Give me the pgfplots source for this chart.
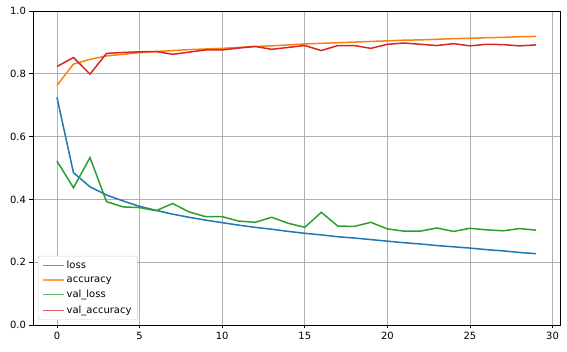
\documentclass[border=0pt]{standalone}
\usepackage{fontspec}
\setmainfont{DejaVu Sans}
\usepackage{pgfplots}
\pgfplotsset{compat=1.18}
\definecolor{tabblue}{HTML}{1F77B4}
\definecolor{taborange}{HTML}{FF7F0E}
\definecolor{tabgreen}{HTML}{2CA02C}
\definecolor{tabred}{HTML}{D62728}
\definecolor{gridgray}{HTML}{B0B0B0}
\definecolor{legblue}{HTML}{5A9BCA}
\definecolor{legorange}{HTML}{FFA24E}
\definecolor{leggreen}{HTML}{63BA63}
\definecolor{legred}{HTML}{E05D5E}
\pgfplotstableread{
ep loss acc vloss vacc
0 0.725 0.763 0.522 0.823
1 0.485 0.831 0.437 0.852
2 0.440 0.846 0.533 0.799
3 0.414 0.857 0.393 0.865
4 0.395 0.862 0.376 0.868
5 0.378 0.867 0.374 0.870
6 0.365 0.871 0.364 0.871
7 0.353 0.874 0.387 0.862
8 0.343 0.877 0.360 0.869
9 0.334 0.879 0.345 0.876
10 0.326 0.881 0.345 0.876
11 0.318 0.884 0.331 0.882
12 0.311 0.887 0.327 0.887
13 0.305 0.889 0.343 0.878
14 0.298 0.892 0.324 0.884
15 0.292 0.895 0.311 0.890
16 0.287 0.897 0.359 0.874
17 0.281 0.899 0.315 0.890
18 0.277 0.901 0.314 0.890
19 0.272 0.903 0.327 0.881
20 0.267 0.905 0.306 0.894
21 0.262 0.907 0.299 0.898
22 0.258 0.908 0.299 0.894
23 0.253 0.910 0.309 0.890
24 0.249 0.912 0.298 0.896
25 0.245 0.913 0.308 0.889
26 0.240 0.915 0.303 0.894
27 0.236 0.916 0.300 0.893
28 0.231 0.918 0.307 0.889
29 0.227 0.919 0.302 0.892
}\hist
\begin{document}
\begin{tikzpicture}
\begin{axis}[
  scale only axis,
  width=527bp, height=314bp,
  xmin=-1.45, xmax=30.45,
  ymin=0, ymax=1,
  xtick={0,5,10,15,20,25,30},
  ytick={0,0.2,0.4,0.6,0.8,1.0},
  yticklabel style={/pgf/number format/fixed,/pgf/number format/fixed zerofill,/pgf/number format/precision=1},
  /pgf/number format/assume math mode=true,
  ticklabel style={font=\fontsize{10}{12}\selectfont},
  tick align=outside,
  major tick length=3.5bp,
  tick style={black, line width=0.8bp},
  axis line style={black, line width=0.8bp},
  grid=major,
  major grid style={gridgray, line width=0.8bp},
  xtick pos=bottom, ytick pos=left,
  legend cell align=left,
  legend style={at={(0.0095,0.016)}, anchor=south west,
    font=\fontsize{10}{12}\selectfont,
    draw=black!20, rounded corners=2bp, fill=white,
    inner xsep=4bp, inner ysep=3bp, row sep=2.5bp},
  legend image code/.code={\draw[#1] (0bp,0bp) -- (21bp,0bp);},
]
\addlegendimage{legblue, line width=1.5bp}
\addlegendentry{loss}
\addlegendimage{legorange, line width=1.5bp}
\addlegendentry{accuracy}
\addlegendimage{leggreen, line width=1.5bp}
\addlegendentry{val\_loss}
\addlegendimage{legred, line width=1.5bp}
\addlegendentry{val\_accuracy}
\addplot[tabblue, line width=1.5bp, forget plot] table[x=ep,y=loss] {\hist};
\addplot[taborange, line width=1.5bp, forget plot] table[x=ep,y=acc] {\hist};
\addplot[tabgreen, line width=1.5bp, forget plot] table[x=ep,y=vloss] {\hist};
\addplot[tabred, line width=1.5bp, forget plot] table[x=ep,y=vacc] {\hist};
\end{axis}
\pgfresetboundingbox
\path[use as bounding box] ([shift={(-33bp,-27bp)}]current axis.south west) rectangle ([shift={(7bp,11bp)}]current axis.north east);
\end{tikzpicture}
\end{document}
